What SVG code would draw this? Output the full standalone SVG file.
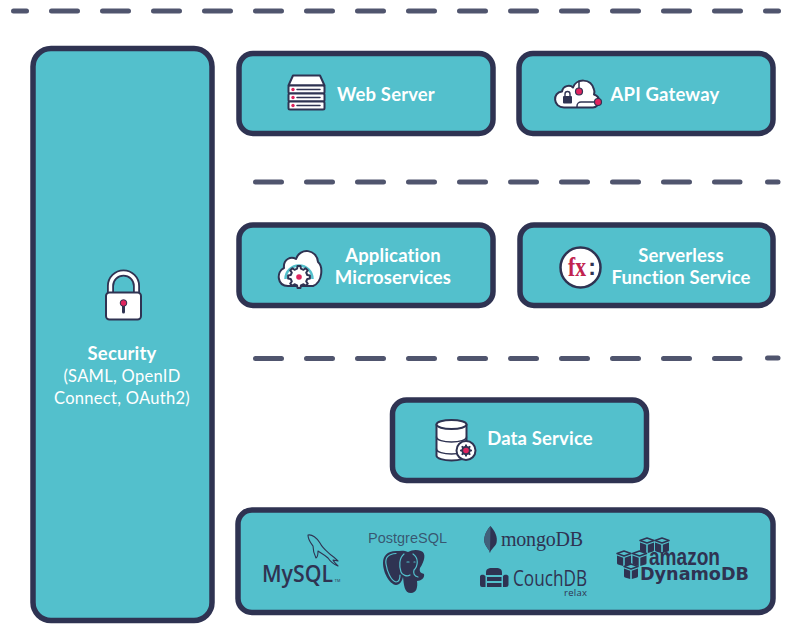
<svg xmlns="http://www.w3.org/2000/svg" width="800" height="642" viewBox="0 0 800 642">
<style>
.box{fill:#53c0cc;stroke:#2f3352;stroke-width:5.5}
.t{font-family:Lato,"Open Sans",sans-serif;font-size:18.5px;font-weight:700;fill:#fff;text-anchor:middle;letter-spacing:.15px}
.r{font-weight:400;font-size:16.5px;letter-spacing:.3px}
.dash{fill:none;stroke:#50556e;stroke-width:5;stroke-linecap:round}
.rep{stroke-dasharray:26 25}
.i{fill:#fff;stroke:#2f3352;stroke-width:2;stroke-linejoin:round}
.p{fill:#e0245e;stroke:#2f3352;stroke-width:1.2}
.l{fill:none;stroke:#2f3352;stroke-width:1.5;stroke-linecap:round;stroke-linejoin:round}
.d{fill:#2f3352}
.tl{fill:none;stroke:#53c0cc;stroke-width:1.2;stroke-linecap:round}
</style>
<defs>
<polygon id="gear" points="-1.9,-8.3 -1.500,-10.9 1.5,-10.9 1.9,-8.3 4.5,-7.2 6.6,-8.8 8.8,-6.6 7.2,-4.5 8.3,-1.9 10.9,-1.5 10.9,1.5 8.3,1.9 7.2,4.5 8.8,6.6 6.6,8.8 4.5,7.2 1.9,8.3 1.5,10.9 -1.5,10.9 -1.9,8.3 -4.5,7.2 -6.6,8.8 -8.8,6.6 -7.2,4.5 -8.3,1.9 -10.9,1.5 -10.9,-1.5 -8.3,-1.900 -7.2,-4.5 -8.8,-6.6 -6.6,-8.8 -4.5,-7.2"/>
<g id="cube">
<path d="M0 -4.500L7 -7L14 -4.500L7 -2Z" fill="none" stroke="#2f3352" stroke-width="1.500" stroke-linejoin="round"/>
<path d="M0 -2.500L6.200 -.3V8L1 6.500Q0 6 0 5ZM14 -2.500L7.800 -.3V8L13 6.500Q14 6 14 5Z" fill="#2f3352"/>
</g>
</defs>
<rect width="800" height="642" fill="#fff"/>
<g id="connectors">
<path class="dash" d="M13.500 11H26.500"/>
<path class="dash rep" d="M51.500 11H765"/>
<path class="dash" d="M765.500 11H778.500"/>
<path class="dash rep" d="M255.500 182H740"/>
<path class="dash" d="M767.500 182H778"/>
<path class="dash rep" d="M255.500 358.500H740"/>
<path class="dash" d="M767.500 358H778"/>
</g>
<g id="security">
<rect class="box" x="33" y="48.500" width="179" height="572" rx="18"/>
<path d="M110.500 293V286a13 13 0 0 1 26 0V293" fill="none" stroke="#2f3352" stroke-width="7"/>
<path d="M110.500 293V286a13 13 0 0 1 26 0V293" fill="none" stroke="#fff" stroke-width="3.400"/>
<rect class="i" x="106" y="292.500" width="35" height="27" rx="3.500"/>
<path d="M123.500 304v8" stroke="#2f3352" stroke-width="3" stroke-linecap="round"/>
<circle cx="123.500" cy="303" r="3.300" fill="#e0245e" stroke="#2f3352" stroke-width="1"/>
<text class="t" x="122" y="360">Security</text>
<text class="t r" x="122" y="382">(SAML, OpenID</text>
<text class="t r" x="122" y="404">Connect, OAuth2)</text>
</g>
<g id="web-server">
<rect class="box" x="239" y="53.500" width="254" height="80" rx="14"/>
<path class="i" d="M288.500 85.500l4.500-10h27l4.500 10z"/>
<rect class="i" x="288.500" y="85.500" width="36" height="8" rx="1.500"/>
<rect class="i" x="288.500" y="93.500" width="36" height="8" rx="1.500"/>
<rect class="i" x="288.500" y="101.500" width="36" height="8" rx="1.500"/>
<path class="l" d="M297 89.500h23M297 97.500h23M297 105.500h23" stroke-width="1.200"/>
<circle cx="293" cy="89.500" r="1.700" fill="#e0245e"/><circle cx="293" cy="97.500" r="1.700" fill="#e0245e"/><circle cx="293" cy="105.500" r="1.700" fill="#e0245e"/>
<text class="t" x="386" y="100.500">Web Server</text>
</g>
<g id="api-gateway">
<rect class="box" x="519" y="53.500" width="254" height="80" rx="14"/>
<path class="i" d="M564 107.500c-11 0-12-15-2-16 1-6 8-7 11-4 3-9 18-10 21 2 1 3 0 4 0 5 3 1 5 3 5 6 0 4-3 7-6 7z"/>
<rect x="563" y="96" width="9" height="7.500" rx="1" fill="#2f3352"/><path d="M565 96v-2a2.500 2.500 0 0 1 5 0v2" fill="none" stroke="#2f3352" stroke-width="1.400"/>
<path class="l" d="M579 81v10M597 102h-16a4 4 0 0 0 -4 4v1"/>
<circle class="p" cx="579" cy="91.500" r="3.500"/>
<circle class="p" cx="598" cy="102" r="3.500"/>
<text class="t" x="665" y="100.500">API Gateway</text>
</g>
<g id="application-microservices">
<rect class="box" x="239" y="225" width="254" height="80.500" rx="14"/>
<path class="i" d="M288 286c-11 0-12-14-4-18-1-9 7-12 12-9 4-12 21-10 22 3 5 4 5 20-5 24z"/>
<path d="M285.500 279a13.500 13.500 0 0 1 27 0" fill="none" stroke="#53c0cc" stroke-width="2.500"/>
<use href="#gear" x="299" y="277" class="i" stroke-width="1.500"/>
<circle cx="299" cy="277" r="2.800" fill="#e0245e"/>
<text class="t" x="393" y="262">Application</text>
<text class="t" x="393" y="284">Microservices</text>
</g>
<g id="serverless-function-service">
<rect class="box" x="520" y="225" width="253" height="80.500" rx="14"/>
<circle cx="580.500" cy="267.500" r="20" fill="#fff" stroke="#2f3352" stroke-width="2.500"/>
<text x="568" y="276" font-family="'Liberation Serif',serif" font-size="27" font-weight="700" fill="#c2234f" textLength="18" lengthAdjust="spacingAndGlyphs">fx</text>
<text x="592" y="275" font-family="'Liberation Sans',sans-serif" font-size="23" font-weight="700" fill="#2f3352" text-anchor="middle">:</text>
<text class="t" x="681" y="262">Serverless</text>
<text class="t" x="681" y="284">Function Service</text>
</g>
<g id="data-service">
<rect class="box" x="392.500" y="400" width="254" height="80.500" rx="14"/>
<path class="i" d="M436.500 424.500v31c0 3 7 5 15 5s15-2 15-5v-31z"/>
<ellipse class="i" cx="451.500" cy="424.500" rx="15" ry="4.500"/>
<path class="l" d="M436.500 437c0 3 7 5 15 5s15-2 15-5M436.500 449c0 3 7 5 15 5s15-2 15-5" stroke-width="1.800"/>
<circle cx="466" cy="450.500" r="9.500" fill="#fff" stroke="#2f3352" stroke-width="2"/>
<use href="#gear" transform="translate(466 450.500) scale(.55)" fill="#2f3352"/>
<circle cx="466" cy="450.500" r="2.800" fill="#e0245e"/>
<text class="t" x="540" y="445">Data Service</text>
</g>
<g id="databases">
<rect class="box" x="238" y="510" width="535" height="102.500" rx="14"/>
<g id="mysql">
<path d="M308 535C312 534 317 538 320 543C323 549 328 552 331 555C334 557 336 559 338 561L333 560C334 562 336 564 338 566C333 564 330 561 328 558C325 555 321 553 318 551C318 554 318 557 316 558C314 554 313 549 313 546C311 543 308 540 308 535Z" fill="none" stroke="#2f3352" stroke-width="1.100" stroke-linejoin="round"/>
<text x="262" y="582" font-family="'Open Sans',sans-serif" font-size="23" font-weight="600" fill="#2f3352" textLength="71" lengthAdjust="spacingAndGlyphs">MySQL</text>
<text x="334.500" y="582" font-family="'Liberation Sans',sans-serif" font-size="4" fill="#2f3352">TM</text>
</g>
<g id="postgresql">
<text x="368" y="543" font-family="'Liberation Sans',sans-serif" font-size="15" fill="#2f3352" fill-opacity=".75" textLength="79" lengthAdjust="spacingAndGlyphs">PostgreSQL</text>
<path class="d" d="M396 551C387 551 383 556 383 563C383 572 389 584 396 585C400 585 402 581 403 577C404 585 404 593 411 593C416 593 418 588 417 581C421 581 425 578 424 574C421 573 419 572 420 568C424 562 427 553 421 551C416 549 412 550 408 552C404 550 400 551 396 551Z"/>
<path class="tl" d="M396 553.500C388 554 385 558 386 564C387 571 391 581 396 582C399 582 400 578 400 575M404 554C399 558 399 566 401 572C402 575 407 577 410 575M413 554C419 558 418 566 414 570C413 573 414 576 418 577M407 562h2M414 562h1"/>
</g>
<g id="mongodb">
<path d="M490.500 526C485 532 483 539 485 544C486 547 489 549 490 553C491 549 495 547 496.500 543C498 537 495 531 490.500 526Z" fill="#2f3352"/>
<path d="M490.500 526C485 532 483 539 485 544C486 547 489 549 490 553Z" fill="#41607a"/>
<text x="501" y="546" font-family="'Liberation Serif',serif" font-size="20" fill="#2f3352" textLength="82" lengthAdjust="spacing">mongoDB</text>
</g>
<g id="couchdb">
<path class="d" d="M486 573C486 568 489 568 494 568C499 568 502 568 502 573V575H486ZM480 576.500C480 574 485 574 485.500 576.500V587H482Q480 587 480 585ZM503 576.500C503 574 508.500 574 508.500 576.500V585Q508.500 587 506 587H503ZM487 577H501.500V581H487ZM487 583H501.500V587H487Z"/>
<text x="513" y="586" font-family="'Open Sans',sans-serif" font-size="21" fill="#2f3352" textLength="74" lengthAdjust="spacingAndGlyphs">CouchDB</text>
<text x="564" y="596" font-family="'Open Sans',sans-serif" font-size="9.500" fill="#2f3352" textLength="23" lengthAdjust="spacing">relax</text>
</g>
<g id="dynamodb">
<use href="#cube" x="640" y="545"/>
<use href="#cube" x="655" y="545"/>
<use href="#cube" x="617" y="558"/>
<use href="#cube" x="632.500" y="558"/>
<use href="#cube" x="624" y="571"/>
<text x="649" y="565" font-family="'Liberation Sans',sans-serif" font-size="23" font-weight="700" fill="#2f3352" textLength="71" lengthAdjust="spacingAndGlyphs">amazon</text>
<text x="640" y="580" font-family="'DejaVu Sans',sans-serif" font-size="18" font-weight="700" fill="#2f3352" textLength="109" lengthAdjust="spacingAndGlyphs">DynamoDB</text>
</g>
</g>
</svg>
